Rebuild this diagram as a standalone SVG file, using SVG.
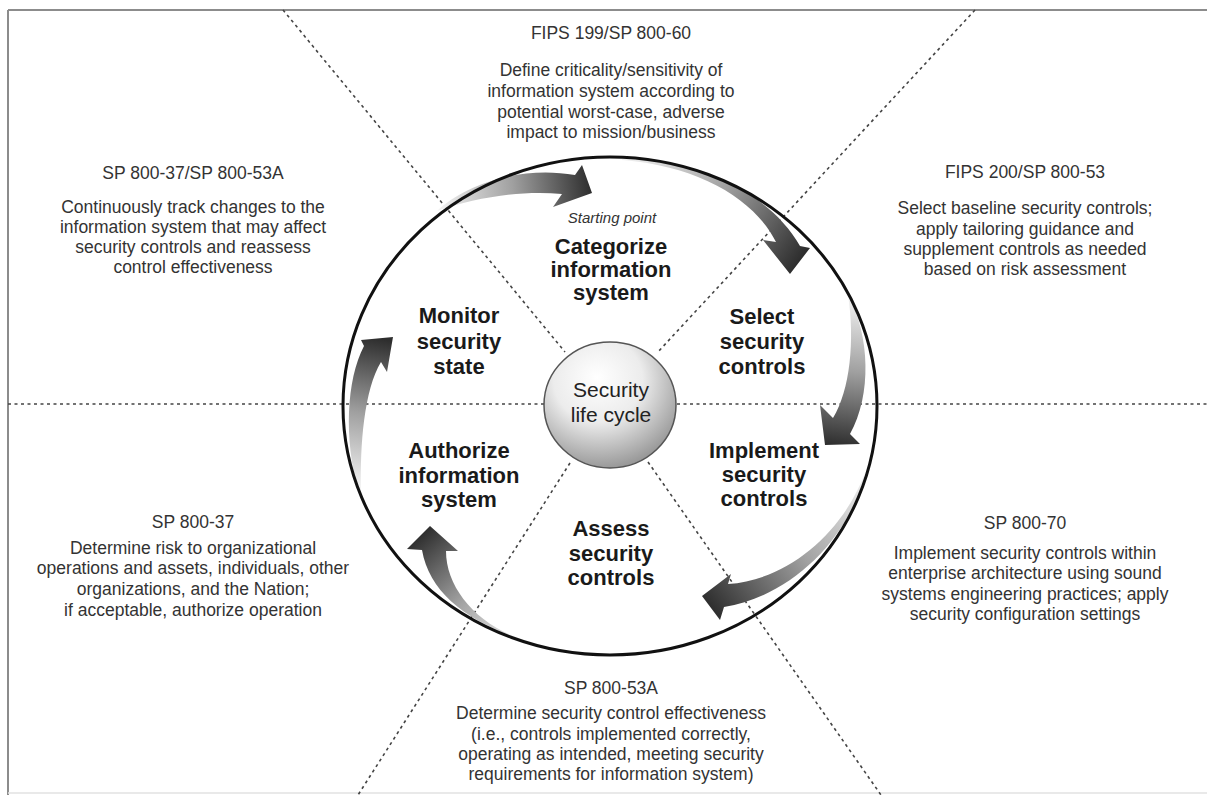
<svg xmlns="http://www.w3.org/2000/svg" width="1207" height="795" viewBox="0 0 1207 795">
<style>
.frame{stroke:#8c8c8c;stroke-width:2;fill:none}
.div{stroke:#444;stroke-width:1.6;stroke-dasharray:3 3.5;fill:none}
.ring{fill:none;stroke:#111;stroke-width:3}
.lbl{font-family:"Liberation Sans",Arial,sans-serif;font-weight:bold;font-size:22px;fill:#1a1a1a;text-anchor:middle}
.note{font-family:"Liberation Sans",Arial,sans-serif;font-size:17.5px;fill:#333;text-anchor:middle}
.ital{font-family:"Liberation Sans",Arial,sans-serif;font-style:italic;font-size:15px;fill:#333;text-anchor:middle}
.hub{font-family:"Liberation Sans",Arial,sans-serif;font-size:21px;fill:#222;text-anchor:middle}
</style>
<defs>
<radialGradient id="hubg" cx="0.42" cy="0.32" r="0.75" fx="0.4" fy="0.28">
<stop offset="0" stop-color="#ffffff"/>
<stop offset="0.45" stop-color="#ececec"/>
<stop offset="1" stop-color="#8a8a8a"/>
</radialGradient>
<linearGradient id="g1" gradientUnits="userSpaceOnUse" x1="437" y1="211" x2="592" y2="193"><stop offset="0" stop-color="#f5f5f5"/><stop offset="0.5" stop-color="#a0a0a0"/><stop offset="1" stop-color="#2e2e2e"/></linearGradient>
<linearGradient id="g2" gradientUnits="userSpaceOnUse" x1="622" y1="158" x2="790" y2="274"><stop offset="0" stop-color="#f5f5f5"/><stop offset="0.5" stop-color="#a0a0a0"/><stop offset="1" stop-color="#2e2e2e"/></linearGradient>
<linearGradient id="g3" gradientUnits="userSpaceOnUse" x1="848" y1="295" x2="830" y2="445"><stop offset="0" stop-color="#f5f5f5"/><stop offset="0.5" stop-color="#a0a0a0"/><stop offset="1" stop-color="#2e2e2e"/></linearGradient>
<linearGradient id="g4" gradientUnits="userSpaceOnUse" x1="866" y1="470" x2="702" y2="596"><stop offset="0" stop-color="#f5f5f5"/><stop offset="0.5" stop-color="#a0a0a0"/><stop offset="1" stop-color="#2e2e2e"/></linearGradient>
<linearGradient id="g5" gradientUnits="userSpaceOnUse" x1="530" y1="642" x2="430" y2="526"><stop offset="0" stop-color="#f5f5f5"/><stop offset="0.5" stop-color="#a0a0a0"/><stop offset="1" stop-color="#2e2e2e"/></linearGradient>
<linearGradient id="g6" gradientUnits="userSpaceOnUse" x1="358" y1="490" x2="385" y2="340"><stop offset="0" stop-color="#f5f5f5"/><stop offset="0.5" stop-color="#a0a0a0"/><stop offset="1" stop-color="#2e2e2e"/></linearGradient>
</defs>
<rect x="0" y="0" width="1207" height="795" fill="#ffffff"/>
<g id="frame">
<line class="frame" x1="8" y1="10" x2="1207" y2="10"/>
<line class="frame" x1="8" y1="10" x2="8" y2="795"/>
<line x1="8" y1="793" x2="1207" y2="793" stroke="#e2e2e2" stroke-width="1.5"/>
</g>
<g id="dividers">
<line class="div" x1="8" y1="404" x2="544" y2="404"/>
<line class="div" x1="677" y1="404" x2="1207" y2="404"/>
<line class="div" x1="283" y1="10" x2="565" y2="352"/>
<line class="div" x1="975" y1="10" x2="657" y2="353"/>
<line class="div" x1="570" y1="463" x2="358" y2="795"/>
<line class="div" x1="648" y1="462" x2="881" y2="795"/>
</g>
<g id="connectors">
<path id="arrow-monitor-categorize" fill="url(#g1)" d="M 437,211 C 465,185 520,165 575,175 L 582,165 L 592,193 L 553,207 L 562,194 C 520,190 475,198 437,211 Z"/>
<path id="arrow-categorize-select" fill="url(#g2)" d="M 622,158 C 700,160 770,193 800,246 L 810,248 L 790,274 L 763,240 L 776,242 C 755,200 700,166 622,160 Z"/>
<path id="arrow-select-implement" fill="url(#g3)" d="M 848,295 C 870,335 872,395 850,434 L 860,444 L 825,445 L 820,405 L 833,418 C 850,390 855,340 848,295 Z"/>
<path id="arrow-implement-assess" fill="url(#g4)" d="M 866,470 C 850,538 792,596 724,607 L 720,620 L 702,596 L 731,574 L 728,584 C 790,580 845,530 866,470 Z"/>
<path id="arrow-assess-authorize" fill="url(#g5)" d="M 530,642 C 472,624 430,596 422,550 L 407,549 L 430,526 L 458,551 L 446,551 C 446,590 480,628 530,642 Z"/>
<path id="arrow-authorize-monitor" fill="url(#g6)" d="M 358,490 C 344,440 346,380 364,346 L 361,340 L 393,337 L 387,372 L 381,362 C 364,390 360,445 361,490 Z"/>
</g>
<g id="cycle-ring">
<ellipse class="ring" cx="610" cy="406" rx="267" ry="249"/>
</g>
<g id="center">
<ellipse cx="610" cy="405" rx="66" ry="63" fill="url(#hubg)" stroke="#555" stroke-width="1.5"/>
<text class="hub" x="611" y="397">Security</text>
<text class="hub" x="611" y="422">life cycle</text>
</g>
<g id="categorize">
<text class="ital" x="612" y="223">Starting point</text>
<text class="lbl" x="611" y="254">Categorize</text>
<text class="lbl" x="611" y="277">information</text>
<text class="lbl" x="611" y="300">system</text>
</g>
<g id="select">
<text class="lbl" x="762" y="324">Select</text>
<text class="lbl" x="762" y="349">security</text>
<text class="lbl" x="762" y="374">controls</text>
</g>
<g id="implement">
<text class="lbl" x="764" y="458">Implement</text>
<text class="lbl" x="764" y="482">security</text>
<text class="lbl" x="764" y="506">controls</text>
</g>
<g id="assess">
<text class="lbl" x="611" y="536">Assess</text>
<text class="lbl" x="611" y="561">security</text>
<text class="lbl" x="611" y="585">controls</text>
</g>
<g id="authorize">
<text class="lbl" x="459" y="458">Authorize</text>
<text class="lbl" x="459" y="483">information</text>
<text class="lbl" x="459" y="507">system</text>
</g>
<g id="monitor">
<text class="lbl" x="459" y="323">Monitor</text>
<text class="lbl" x="459" y="349">security</text>
<text class="lbl" x="459" y="374">state</text>
</g>
<g id="note-categorize">
<text class="note" x="611" y="39">FIPS 199/SP 800-60</text>
<text class="note" x="611" y="76">Define criticality/sensitivity of</text>
<text class="note" x="611" y="97">information system according to</text>
<text class="note" x="611" y="118">potential worst-case, adverse</text>
<text class="note" x="611" y="138">impact to mission/business</text>
</g>
<g id="note-monitor">
<text class="note" x="193" y="179">SP 800-37/SP 800-53A</text>
<text class="note" x="193" y="213">Continuously track changes to the</text>
<text class="note" x="193" y="233">information system that may affect</text>
<text class="note" x="193" y="253">security controls and reassess</text>
<text class="note" x="193" y="273">control effectiveness</text>
</g>
<g id="note-select">
<text class="note" x="1025" y="178">FIPS 200/SP 800-53</text>
<text class="note" x="1025" y="214">Select baseline security controls;</text>
<text class="note" x="1025" y="235">apply tailoring guidance and</text>
<text class="note" x="1025" y="255">supplement controls as needed</text>
<text class="note" x="1025" y="275">based on risk assessment</text>
</g>
<g id="note-authorize">
<text class="note" x="193" y="528">SP 800-37</text>
<text class="note" x="193" y="554">Determine risk to organizational</text>
<text class="note" x="193" y="574">operations and assets, individuals, other</text>
<text class="note" x="193" y="595">organizations, and the Nation;</text>
<text class="note" x="193" y="616">if acceptable, authorize operation</text>
</g>
<g id="note-implement">
<text class="note" x="1025" y="529">SP 800-70</text>
<text class="note" x="1025" y="559">Implement security controls within</text>
<text class="note" x="1025" y="579">enterprise architecture using sound</text>
<text class="note" x="1025" y="600">systems engineering practices; apply</text>
<text class="note" x="1025" y="620">security configuration settings</text>
</g>
<g id="note-assess">
<text class="note" x="611" y="694">SP 800-53A</text>
<text class="note" x="611" y="719">Determine security control effectiveness</text>
<text class="note" x="611" y="740">(i.e., controls implemented correctly,</text>
<text class="note" x="611" y="760">operating as intended, meeting security</text>
<text class="note" x="611" y="780">requirements for information system)</text>
</g>
</svg>
